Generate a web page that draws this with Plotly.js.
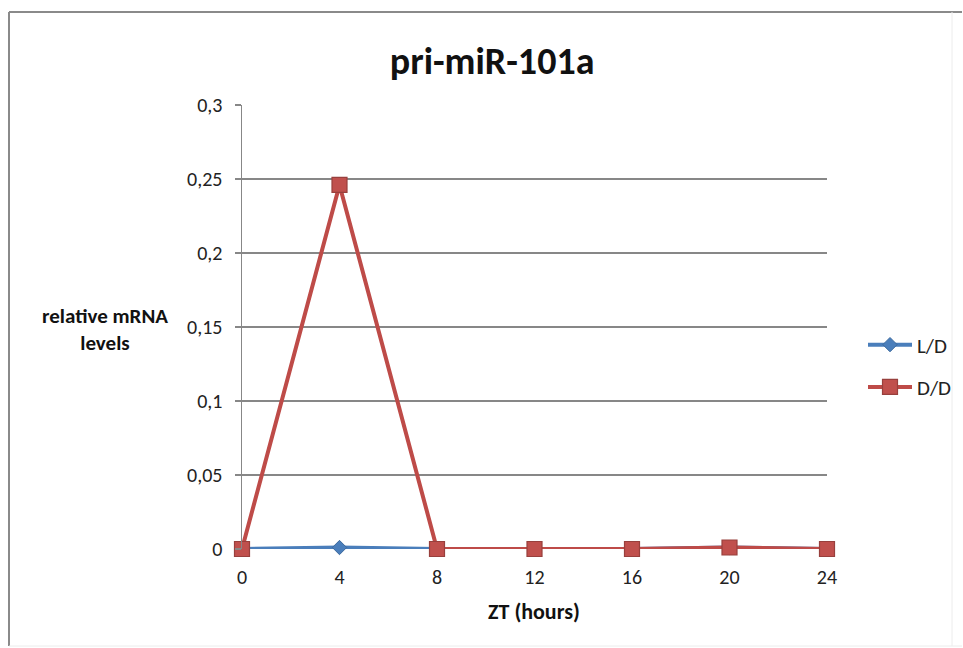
<!DOCTYPE html>
<html>
<head>
<meta charset="utf-8">
<script src="https://cdn.plot.ly/plotly-3.0.1.min.js"></script>
<style>
  html, body { margin: 0; padding: 0; background: #ffffff; }
  #chart { width: 963px; height: 648px; }
</style>
</head>
<body>
<div id="chart"></div>
<script>
// Sampling times (ZT, hours)
const ztHours = [0, 4, 8, 12, 16, 20, 24];
// Relative pri-miR-101a levels per light condition
const levelsLD = [0, 0.001, 0, 0, 0, 0.001, 0];
const levelsDD = [0, 0.246, 0, 0, 0, 0.001, 0];
const yTickVals = [0, 0.05, 0.1, 0.15, 0.2, 0.25, 0.3];

const FONT = 'Carlito, Lato, "Open Sans", sans-serif';

const traces = [
  {
    name: 'L/D',
    legendgroup: 'ld',
    x: ztHours,
    y: levelsLD,
    mode: 'lines+markers',
    cliponaxis: false,
    line: { color: '#4A7EBB', width: 4 },
    marker: { symbol: 'diamond', size: 11, color: '#4A7EBB',
              line: { color: '#3C6A9E', width: 1 } }
  },
  {
    name: 'D/D',
    legendgroup: 'dd',
    x: ztHours,
    y: levelsDD,
    mode: 'lines+markers',
    cliponaxis: false,
    line: { color: '#BE4B48', width: 4 },
    marker: { symbol: 'square', size: 15, color: '#C0504D',
              line: { color: '#98403D', width: 1.2 } }
  }
];

// Frame geometry helpers (pixel -> paper fraction)
const M = { l: 242, r: 136, t: 105, b: 99 };
const plotW = 963 - M.l - M.r, plotH = 648 - M.t - M.b;
const px = v => (v - M.l) / plotW;
const py = v => (648 - M.b - v) / plotH;

const layout = {
  width: 963,
  height: 648,
  separators: ', ',
  paper_bgcolor: '#ffffff',
  plot_bgcolor: '#ffffff',
  font: { family: FONT, size: 20, color: '#222222' },
  margin: { l: M.l, r: M.r, t: M.t, b: M.b, pad: 0, autoexpand: false },
  showlegend: true,
  title: {
    text: '<b>pri-miR-101a</b>',
    font: { family: FONT, size: 38, color: '#111111' },
    xref: 'container', yref: 'container',
    x: 0.511, xanchor: 'center',
    y: 0.907, yanchor: 'middle'
  },
  xaxis: {
    range: [0, 24],
    tickvals: ztHours,
    ticktext: ztHours.map(String),
    showgrid: false,
    zeroline: false,
    showline: false,
    ticks: '',
    ticklabelstandoff: 14,
    tickfont: { family: FONT, size: 20, color: '#222222' }
  },
  yaxis: {
    range: [0, 0.3],
    tickvals: yTickVals,
    tickformat: '.2~f',
    showgrid: true,
    gridcolor: '#878787',
    gridwidth: 1.3,
    zeroline: false,
    showline: true,
    linecolor: '#878787',
    linewidth: 1.5,
    ticks: 'outside',
    ticklen: 6,
    tickcolor: '#878787',
    tickwidth: 1.3,
    ticklabelstandoff: 8,
    tickfont: { family: FONT, size: 20, color: '#222222' }
  },
  legend: {
    x: px(863), xanchor: 'left',
    y: py(366), yanchor: 'middle',
    bgcolor: 'rgba(0,0,0,0)',
    font: { family: FONT, size: 21, color: '#222222' },
    tracegroupgap: 12,
    itemwidth: 44
  },
  annotations: [
    {
      text: '<b>relative mRNA<br>levels</b>',
      xref: 'paper', yref: 'paper',
      x: px(105), y: py(329),
      xanchor: 'center', yanchor: 'middle',
      showarrow: false,
      font: { family: FONT, size: 21, color: '#111111' }
    },
    {
      text: '<b>ZT (hours)</b>',
      xref: 'paper', yref: 'paper',
      x: px(534), y: py(611),
      xanchor: 'center', yanchor: 'middle',
      showarrow: false,
      font: { family: FONT, size: 22, color: '#111111' }
    }
  ],
  shapes: [
    { type: 'line', xref: 'paper', yref: 'paper', x0: px(9), x1: px(9), y0: py(12), y1: py(646),
      line: { color: '#8a8a8a', width: 2 } },
    { type: 'line', xref: 'paper', yref: 'paper', x0: px(9), x1: px(962), y0: py(12), y1: py(12),
      line: { color: '#8a8a8a', width: 2 } },
    { type: 'line', xref: 'paper', yref: 'paper', x0: px(952), x1: px(952), y0: py(12), y1: py(646),
      line: { color: '#ececec', width: 1 } },
    { type: 'line', xref: 'paper', yref: 'paper', x0: px(9), x1: px(962), y0: py(646), y1: py(646),
      line: { color: '#ececec', width: 1 } }
  ]
};

Plotly.newPlot('chart', traces, layout, { displayModeBar: false, staticPlot: true });
</script>
</body>
</html>
